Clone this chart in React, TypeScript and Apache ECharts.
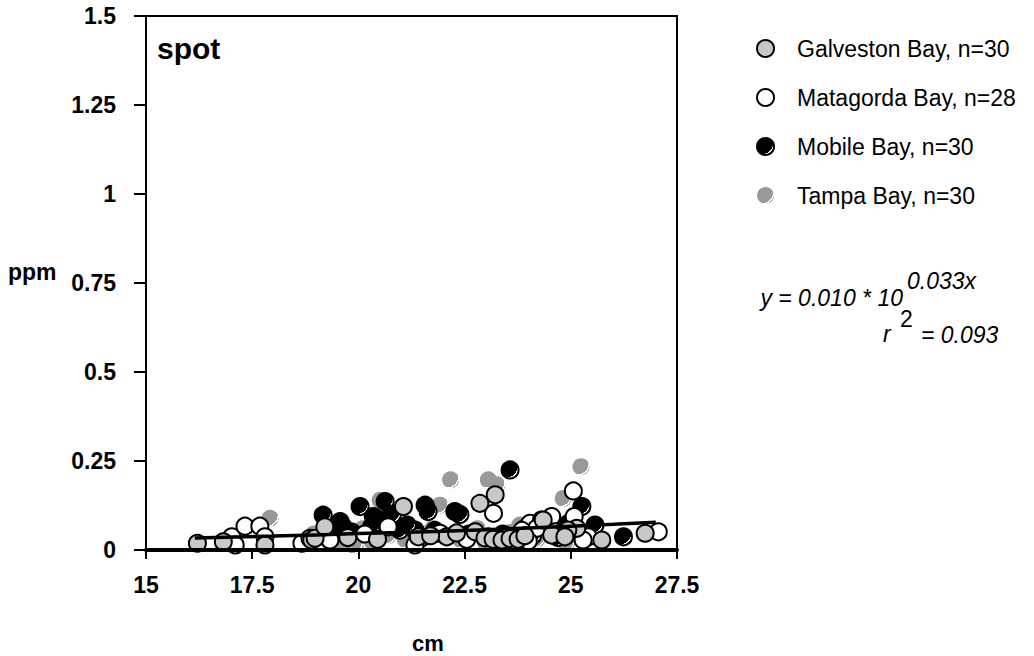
import React, { useEffect, useRef } from "react";
import * as echarts from "echarts";

// ---- data ----
const xMin = 15;
const xMax = 27.5;
const xStep = 2.5;
const yMin = 0;
const yMax = 1.5;
const yStep = 0.25;

const galvestonName = "Galveston Bay, n=30";
const matagordaName = "Matagorda Bay, n=28";
const mobileName = "Mobile Bay, n=30";
const tampaName = "Tampa Bay, n=30";

const galveston: [number, number][] = [
  [16.21, 0.019], [16.82, 0.023], [17.8, 0.014], [18.9, 0.028], [18.98, 0.033],
  [19.21, 0.065], [21.06, 0.122], [21.41, 0.037], [22.08, 0.037], [22.31, 0.048],
  [22.75, 0.051], [22.86, 0.131], [23.22, 0.155], [22.98, 0.034], [23.17, 0.03],
  [23.38, 0.028], [23.57, 0.032], [23.76, 0.03], [24.35, 0.084], [24.63, 0.051],
  [24.55, 0.042], [25.14, 0.061], [24.93, 0.056], [25.73, 0.028], [26.75, 0.047],
  [24.86, 0.037], [19.75, 0.035], [21.7, 0.04], [23.92, 0.04], [20.45, 0.03],
];

const matagorda: [number, number][] = [
  [17.02, 0.037], [17.1, 0.014], [17.33, 0.067], [17.68, 0.067], [17.8, 0.037],
  [18.67, 0.019], [18.86, 0.033], [19.33, 0.028], [20.7, 0.065], [21.33, 0.014],
  [21.92, 0.047], [23.18, 0.103], [23.05, 0.037], [24.04, 0.075], [24.31, 0.084],
  [24.55, 0.094], [24.2, 0.061], [25.06, 0.166], [25.08, 0.094], [24.75, 0.051],
  [25.41, 0.037], [27.06, 0.051], [25.29, 0.028], [23.5, 0.04], [20.15, 0.045],
  [22.55, 0.03], [23.85, 0.055], [24.0, 0.025],
];

const mobile: [number, number][] = [
  [19.17, 0.098], [19.57, 0.08], [19.64, 0.065], [20.04, 0.122], [20.63, 0.136],
  [21.57, 0.126], [21.64, 0.108], [20.35, 0.094], [20.31, 0.065], [20.98, 0.056],
  [21.33, 0.056], [22.27, 0.108], [22.39, 0.1], [23.57, 0.225], [25.26, 0.122],
  [25.57, 0.07], [26.24, 0.037], [19.85, 0.05], [20.5, 0.085], [21.15, 0.07],
  [21.5, 0.035], [23.4, 0.045], [24.1, 0.04], [24.7, 0.035], [24.95, 0.075],
  [20.8, 0.1], [21.8, 0.055], [23.9, 0.06], [19.4, 0.045], [22.6, 0.045],
];

const tampa: [number, number][] = [
  [17.92, 0.089], [19.64, 0.02], [20.0, 0.028], [20.23, 0.037], [19.8, 0.042],
  [20.51, 0.14], [21.92, 0.126], [22.17, 0.197], [23.06, 0.197], [23.26, 0.183],
  [24.82, 0.145], [25.24, 0.234], [19.9, 0.012], [20.35, 0.02], [21.4, 0.02],
  [21.6, 0.045], [22.4, 0.03], [23.0, 0.02], [23.6, 0.05], [24.2, 0.03],
  [24.9, 0.02], [18.95, 0.045], [19.3, 0.025], [20.7, 0.04], [21.1, 0.03],
  [22.8, 0.06], [23.8, 0.07], [24.5, 0.06], [21.75, 0.06], [20.1, 0.06],
];

// fitted curve y = 0.010 * 10^(0.033x)
const fitLine: [number, number][] = [
  [16.15, 0.034], [18, 0.039], [20, 0.046], [22, 0.053], [24, 0.062], [26, 0.072], [27, 0.078],
];

const FONT = '"Liberation Sans", Arial, sans-serif';

function shine(base: string) {
  return new echarts.graphic.RadialGradient(0.3, 0.3, 0.8, [
    { offset: 0, color: base },
    { offset: 0.8, color: base },
    { offset: 0.81, color: "#ffffff" },
    { offset: 0.9, color: "#ffffff" },
    { offset: 0.91, color: base },
    { offset: 1, color: base },
  ]);
}

export default function App() {
  const ref = useRef<HTMLDivElement>(null);

  useEffect(() => {
    if (!ref.current) return;
    const chart = echarts.init(ref.current, undefined, { renderer: "svg" });
    const symbolSize = 17;
    chart.setOption({
      animation: false,
      backgroundColor: "#ffffff",
      grid: {
        left: 146,
        top: 16,
        width: 531,
        height: 534,
        show: true,
        borderColor: "#000",
        borderWidth: 2,
        backgroundColor: "transparent",
      },
      xAxis: {
        type: "value",
        min: xMin,
        max: xMax,
        interval: xStep,
        z: 10,
        splitLine: { show: false },
        axisLine: { show: true, onZero: false, lineStyle: { color: "#000", width: 4 } },
        axisTick: { show: true, length: 9, lineStyle: { color: "#000", width: 2 } },
        axisLabel: {
          margin: 23,
          color: "#000",
          fontSize: 23,
          fontWeight: "bold",
          fontFamily: FONT,
        },
      },
      yAxis: {
        type: "value",
        min: yMin,
        max: yMax,
        interval: yStep,
        z: 10,
        splitLine: { show: false },
        axisLine: { show: true, onZero: false, lineStyle: { color: "#000", width: 2 } },
        axisTick: { show: true, length: 12, lineStyle: { color: "#000", width: 2 } },
        axisLabel: {
          margin: 30,
          color: "#000",
          fontSize: 23,
          fontWeight: "bold",
          fontFamily: FONT,
        },
      },
      legend: {
        orient: "vertical",
        left: 751,
        top: 32,
        itemWidth: 17,
        itemHeight: 17,
        itemGap: 26,
        icon: "circle",
        data: [galvestonName, matagordaName, mobileName, tampaName],
        textStyle: {
          fontSize: 23,
          fontFamily: FONT,
          color: "#000",
          lineHeight: 22,
          padding: [0, 0, 0, 18],
        },
      },
      series: [
        {
          name: tampaName,
          type: "scatter",
          symbol: "circle",
          symbolSize,
          data: tampa,
          itemStyle: { color: shine("#999999"), borderWidth: 0, opacity: 1 },
        },
        {
          name: mobileName,
          type: "scatter",
          symbol: "circle",
          symbolSize,
          data: mobile,
          itemStyle: { color: shine("#000000"), borderColor: "#000", borderWidth: 2, opacity: 1 },
        },
        {
          name: matagordaName,
          type: "scatter",
          symbol: "circle",
          symbolSize,
          data: matagorda,
          itemStyle: { color: "#ffffff", borderColor: "#000", borderWidth: 2, opacity: 1 },
        },
        {
          name: galvestonName,
          type: "scatter",
          symbol: "circle",
          symbolSize,
          data: galveston,
          itemStyle: { color: "#c8c8c8", borderColor: "#000", borderWidth: 2, opacity: 1 },
        },
        {
          name: "fit",
          type: "line",
          data: fitLine,
          showSymbol: false,
          symbol: "none",
          smooth: true,
          z: 5,
          lineStyle: { color: "#000", width: 3.5 },
        },
      ],
      graphic: [
        {
          type: "text",
          x: 157,
          y: 48,
          style: { text: "spot", font: `bold 30px ${FONT}`, fill: "#000", textVerticalAlign: "middle" },
        },
        {
          type: "text",
          x: 8,
          y: 272,
          style: { text: "ppm", font: `bold 23px ${FONT}`, fill: "#000", textVerticalAlign: "middle" },
        },
        {
          type: "text",
          x: 428,
          y: 643,
          style: { text: "cm", font: `bold 22px ${FONT}`, fill: "#000", textAlign: "center", textVerticalAlign: "middle" },
        },
        {
          type: "text",
          x: 903,
          y: 298,
          style: { text: "y = 0.010 * 10", font: `italic 23px ${FONT}`, fill: "#000", textAlign: "right", textVerticalAlign: "middle" },
        },
        {
          type: "text",
          x: 907,
          y: 281,
          style: { text: "0.033x", font: `italic 23px ${FONT}`, fill: "#000", textVerticalAlign: "middle" },
        },
        {
          type: "text",
          x: 883,
          y: 334,
          style: { text: "r", font: `italic 23px ${FONT}`, fill: "#000", textVerticalAlign: "middle" },
        },
        {
          type: "text",
          x: 900,
          y: 319,
          style: { text: "2", font: `23px ${FONT}`, fill: "#000", textVerticalAlign: "middle" },
        },
        {
          type: "text",
          x: 921,
          y: 335,
          style: { text: "= 0.093", font: `italic 23px ${FONT}`, fill: "#000", textVerticalAlign: "middle" },
        },
      ],
    });
    return () => chart.dispose();
  }, []);

  return (
    <div
      ref={ref}
      style={{ position: "fixed", left: 0, top: 0, width: 1034, height: 656, background: "#fff" }}
    />
  );
}
